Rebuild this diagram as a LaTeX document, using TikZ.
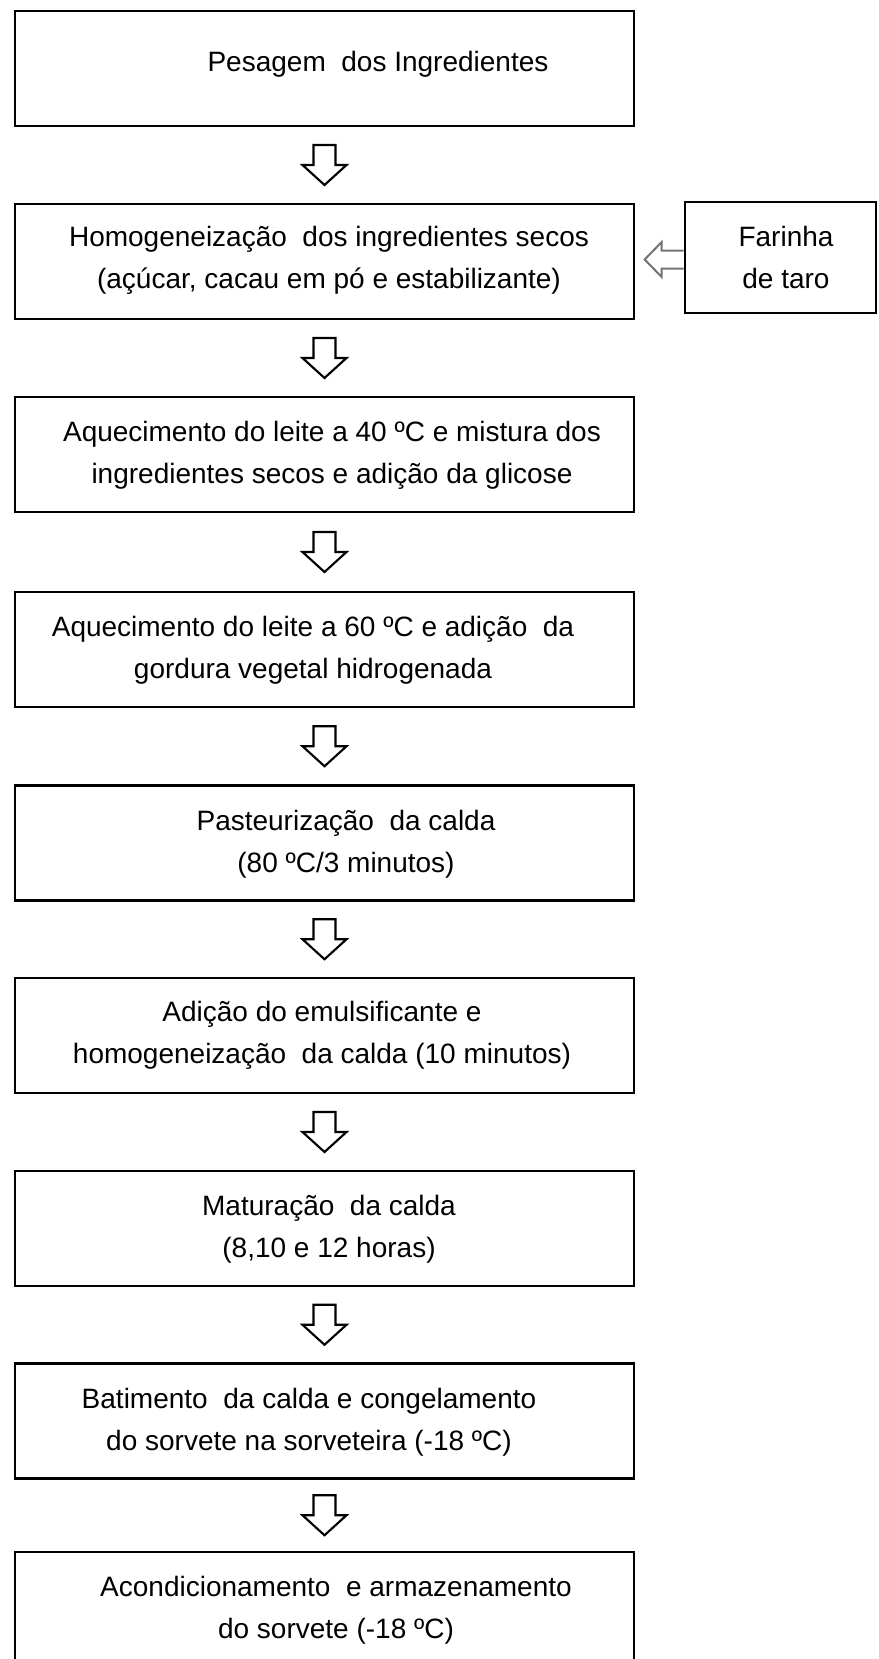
\documentclass[tikz,border=0pt]{standalone}
\usepackage{fontspec}
\setmainfont{Liberation Sans}
\usetikzlibrary{calc}

\begin{document}
\begin{tikzpicture}[x=0.75pt,y=-0.75pt,
  stepbox/.style={draw,line width=2pt,minimum width=464.25pt,minimum height=86.25pt,inner sep=0pt},
  sidebox/.style={draw,line width=2pt,minimum width=143.25pt,minimum height=83.25pt,inner sep=0pt},
  steptext/.style={font=\fontsize{21}{31}\selectfont,align=center,anchor=base,inner sep=0pt},
  downarrow/.style={draw,line width=1.6pt,fill=white,line join=miter},
  sidearrow/.style={draw=black!55,line width=1.5pt,line join=miter}]
  \useasboundingbox (0,0) rectangle (878,1659);
  % boxes
  \node[stepbox] (pesagem)  at (324.5,  68.5) {};
  \node[stepbox] (homog)    at (324.5, 261.5) {};
  \node[stepbox] (aquec40)  at (324.5, 454.5) {};
  \node[stepbox] (aquec60)  at (324.5, 649.5) {};
  \node[stepbox] (pasteur)  at (324.5, 843.0) {};
  \node[stepbox] (emuls)    at (324.5,1035.5) {};
  \node[stepbox] (matur)    at (324.5,1228.5) {};
  \node[stepbox] (batim)    at (324.5,1421.0) {};
  \node[stepbox] (acond)    at (324.5,1609.5) {};
  \node[sidebox] (farinha)  at (780.5, 257.5) {};
  % texts (base = last line)
  \node[steptext] (tpesagem) at (378,  71) {Pesagem~ dos Ingredientes};
  \node[steptext] (thomog)   at (329, 288) {Homogeneização~ dos ingredientes secos\\(açúcar, cacau em pó e estabilizante)};
  \node[steptext] (taquec40) at (332, 483) {Aquecimento do leite a 40 ºC e mistura dos\\ingredientes secos e adição da glicose};
  \node[steptext] (taquec60) at (313, 678) {Aquecimento do leite a 60 ºC e adição~ da\\gordura vegetal hidrogenada};
  \node[steptext] (tpasteur) at (346, 872) {Pasteurização~ da calda\\(80 ºC/3 minutos)};
  \node[steptext] (temuls)   at (322,1063) {Adição do emulsificante e\\homogeneização~ da calda (10 minutos)};
  \node[steptext] (tmatur)   at (329,1257) {Maturação~ da calda\\(8,10 e 12 horas)};
  \node[steptext] (tbatim)   at (309,1450) {Batimento~ da calda e congelamento\\do sorvete na sorveteira (-18 ºC)};
  \node[steptext] (tacond)   at (336,1638) {Acondicionamento~ e armazenamento\\do sorvete (-18 ºC)};
  \node[steptext] (tfarinha) at (786, 288) {Farinha\\de taro};
  % arrows
  \draw[downarrow] ($(pesagem.south)!0.5!(homog.north)+(-11,-20)$) -- ++(22,0) -- ++(0,20) -- ++(11,0) -- ++(-22,20) -- ++(-22,-20) -- ++(11,0) -- cycle;
  \draw[downarrow] ($(homog.south)!0.5!(aquec40.north)+(-11,-20)$) -- ++(22,0) -- ++(0,20) -- ++(11,0) -- ++(-22,20) -- ++(-22,-20) -- ++(11,0) -- cycle;
  \draw[downarrow] ($(aquec40.south)!0.5!(aquec60.north)+(-11,-20)$) -- ++(22,0) -- ++(0,20) -- ++(11,0) -- ++(-22,20) -- ++(-22,-20) -- ++(11,0) -- cycle;
  \draw[downarrow] ($(aquec60.south)!0.5!(pasteur.north)+(-11,-20)$) -- ++(22,0) -- ++(0,20) -- ++(11,0) -- ++(-22,20) -- ++(-22,-20) -- ++(11,0) -- cycle;
  \draw[downarrow] ($(pasteur.south)!0.5!(emuls.north)+(-11,-20)$) -- ++(22,0) -- ++(0,20) -- ++(11,0) -- ++(-22,20) -- ++(-22,-20) -- ++(11,0) -- cycle;
  \draw[downarrow] ($(emuls.south)!0.5!(matur.north)+(-11,-20)$) -- ++(22,0) -- ++(0,20) -- ++(11,0) -- ++(-22,20) -- ++(-22,-20) -- ++(11,0) -- cycle;
  \draw[downarrow] ($(matur.south)!0.5!(batim.north)+(-11,-20)$) -- ++(22,0) -- ++(0,20) -- ++(11,0) -- ++(-22,20) -- ++(-22,-20) -- ++(11,0) -- cycle;
  \draw[downarrow] ($(batim.south)!0.5!(acond.north)+(-11,-20)$) -- ++(22,0) -- ++(0,20) -- ++(11,0) -- ++(-22,20) -- ++(-22,-20) -- ++(11,0) -- cycle;
  \draw[sidearrow] ($(homog.east -| farinha.west)+(0,-11)$) -- ++(-22,0) -- ++(0,-8.5) -- ++(-17,17.5) -- ++(17,17.5) -- ++(0,-8.5) -- ++(22,0);
\end{tikzpicture}
\end{document}
